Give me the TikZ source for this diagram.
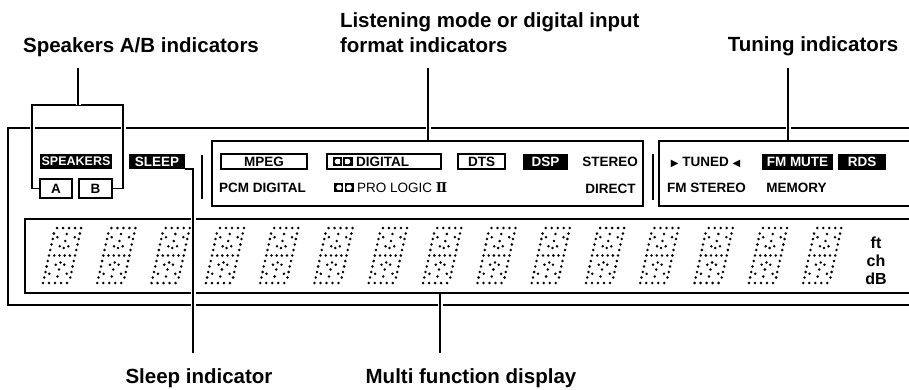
\documentclass[tikz,border=0pt]{standalone}
\usepackage{fontspec}
\setmainfont{Liberation Sans}
\newfontfamily\dejavu{DejaVu Sans}
\newfontfamily\dejaserif{DejaVu Serif}
\newcommand\lblfont{\fontsize{13.5}{15}\selectfont\bfseries}
\newcommand\titlefont{\fontsize{20.5}{25}\selectfont\bfseries}
\begin{document}
\begin{tikzpicture}[x=1pt,y=-1pt,
  frame/.style={draw=black,line width=1.3pt,inner sep=0pt,outer sep=0pt},
  leader/.style={draw=black,line width=1.1pt,preaction={draw=white,line width=5pt}},
  wbox/.style={draw=black,line width=1.1pt,fill=white,inner sep=0pt,outer sep=0pt,font=\lblfont},
  bbox/.style={fill=black,text=white,inner sep=0pt,outer sep=0pt,font=\lblfont},
  lbl/.style={inner sep=0pt,outer sep=0pt,font=\lblfont},
  title/.style={inner sep=0pt,outer sep=0pt,font=\titlefont},
  bar/.style={draw=black,line width=2.2pt},
  ddlogo/.pic={
    \fill[black] (-10,-4.8) rectangle (-0.8,4.8);
    \fill[black] (0.8,-4.8) rectangle (10,4.8);
    \fill[white] (-5,-2.8) rectangle (-2.7,2.8);
    \fill[white] (-5,0) circle[radius=2.8pt];
    \fill[white] (2.7,-2.8) rectangle (5,2.8);
    \fill[white] (5,0) circle[radius=2.8pt];
  },
  digit/.pic={
    \foreach \u/\v in {2/55,8/55,14/55,20/55,26/55,
      0/27.5,5.2/27.5,10.4/27.5,15.6/27.5,20.8/27.5,26/27.5,
      0/0,6/0,12/0,18/0,24/0,
      0/33,0/38.5,0/44,0/49.5,0/5.5,0/11,0/16.5,0/22,
      26/33,26/38.5,26/44,26/49.5,26/5.5,26/11,26/16.5,26/22,
      13/35,13/42,13/49,13/6.5,13/13.5,13/20.5,
      4.3/45.8,8.7/36.7,21.7/45.8,17.3/36.7,4.3/9.2,8.7/18.3,21.7/9.2,17.3/18.3}
      {\fill[black] ({\u+0.22*\v},{-\v}) circle[radius=1.4pt];}
  }
]
\useasboundingbox (0,0) rectangle (909,389);
\clip (0,0) rectangle (909,389);

% frames
\node[frame,minimum width=950,minimum height=177,anchor=north west] (outer) at (8,128) {};
\node[frame,minimum width=900,minimum height=74,anchor=north west] (disp) at (25,219) {};

% dot-matrix digits
\foreach \i in {0,...,14}
  \pic at ({43+54.3*\i},283) {digit};
\node[lbl,font=\fontsize{16}{18}\selectfont\bfseries,align=center] (units) at (876,261) {ft\\ch\\dB};

% leader coordinates
\coordinate (spktop) at (78,68);
\coordinate (listop) at (428,68);
\coordinate (tuntop) at (788,68);
\coordinate (slbot) at (193,353);
\coordinate (mfbot) at (440,353);

% boxes touched by leaders (positions)
\node[bbox,font=\fontsize{12.5}{14}\selectfont\bfseries,minimum width=72,minimum height=15] (spk) at (76,161.5) {SPEAKERS};
\node[wbox,minimum width=32,minimum height=19] (a) at (56,188.5) {A};
\node[wbox,minimum width=33,minimum height=19] (b) at (95.5,188.5) {B};
\node[bbox,minimum width=56,minimum height=15] (sleep) at (157,161.5) {SLEEP};

% leaders
\draw[leader] (a.west) -- ++(-8,0) |- (123,105) |- (b.east);
\draw[leader] (spktop) -- (78,105);
\draw[leader] (sleep.south east) -| (slbot);
\draw[leader] (listop) -- (428,141);
\draw[leader] (tuntop) -- (788,141);
\draw[leader] (mfbot) -- (440,293.7);

% redraw boxes on top of leader halos
\node[bbox,font=\fontsize{12.5}{14}\selectfont\bfseries,minimum width=72,minimum height=15] at (76,161.5) {SPEAKERS};
\node[wbox,minimum width=32,minimum height=19] at (56,188.5) {A};
\node[wbox,minimum width=33,minimum height=19] at (95.5,188.5) {B};
\node[bbox,minimum width=56,minimum height=15] at (157,161.5) {SLEEP};

% separator bars
\draw[bar] (202,155) -- (202,199);
\draw[bar] (653,154) -- (653,200);

% listening / input format box
\node[frame,minimum width=431,minimum height=65,anchor=north west] (lbox) at (212,141) {};
\node[wbox,minimum width=86,minimum height=15] (mpeg) at (264,161.5) {MPEG};
\node[wbox,minimum width=114,minimum height=15] (dig) at (384,161.5) {};
\pic at (342.5,161.5) {ddlogo};
\node[lbl,anchor=west] (digtxt) at (356,161.5) {DIGITAL};
\node[wbox,minimum width=47,minimum height=15] (dts) at (481.5,161.5) {DTS};
\node[bbox,minimum width=45,minimum height=16] (dsp) at (545.5,161.5) {DSP};
\node[lbl] (stereo) at (610,161.5) {STEREO};
\node[lbl] (pcm) at (262.5,187.5) {PCM DIGITAL};
\pic at (344,187.5) {ddlogo};
\node[lbl,font=\fontsize{13.5}{15}\selectfont,anchor=west] (plii) at (357,187.5) {PRO LOGIC {\dejaserif\bfseries Ⅱ}};
\node[lbl] (direct) at (610.5,189) {DIRECT};

% tuning box
\node[frame,minimum width=300,minimum height=65,anchor=north west] (tbox) at (659,141) {};
\node[lbl] (tuned) at (705.5,162) {{\dejavu\fontsize{10}{11}\selectfont ▶} TUNED {\dejavu\fontsize{10}{11}\selectfont ◀}};
\node[bbox,minimum width=71,minimum height=16] (fmmute) at (797.5,162) {FM MUTE};
\node[bbox,minimum width=48,minimum height=16] (rds) at (862,162) {RDS};
\node[lbl] (fmst) at (706.5,188) {FM STEREO};
\node[lbl] (memory) at (796.5,188) {MEMORY};

% titles
\node[title,anchor=base] (spkt) at (141,52) {Speakers A/B indicators};
\node[title,anchor=north west,align=left] (listt) at (340,13) {Listening mode or digital input\\format indicators};
\node[title,anchor=base] (tunt) at (813,51) {Tuning indicators};
\node[title,anchor=base] (sleept) at (199,383) {Sleep indicator};
\node[title,anchor=base] (mft) at (471,383) {Multi function display};
\end{tikzpicture}
\end{document}
